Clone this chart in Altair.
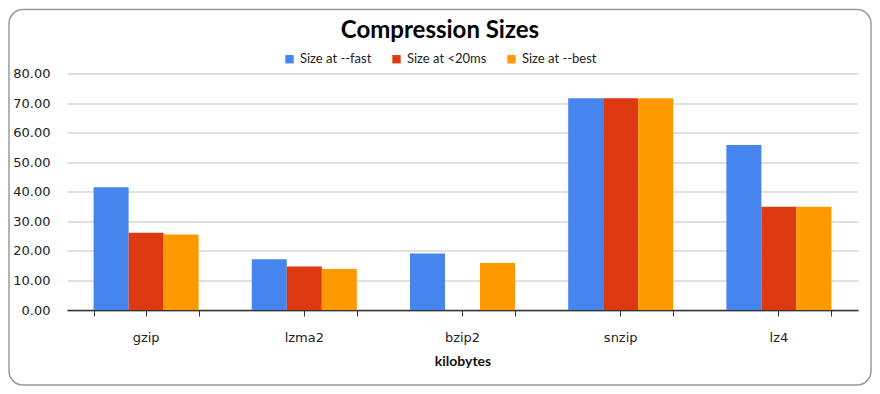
import altair as alt
import pandas as pd

tools = ["gzip", "lzma2", "bzip2", "snzip", "lz4"]
series = ["Size at --fast", "Size at <20ms", "Size at --best"]
size_fast = [41.5, 17.2, 19.1, 71.6, 55.8]
size_20ms = [26.1, 14.7, None, 71.6, 34.9]
size_best = [25.5, 13.9, 15.9, 71.6, 34.9]
colors = ["#4684EE", "#DC3912", "#FF9900"]
y_ticks = [0, 10, 20, 30, 40, 50, 60, 70, 80]
chart_title = "Compression Sizes"

rows = []
for name, vals in zip(series, [size_fast, size_20ms, size_best]):
    for t, v in zip(tools, vals):
        if v is not None:
            rows.append({"tool": t, "series": name, "size": v})
df = pd.DataFrame(rows)

W, H = 791, 236.5

xscale = alt.Scale(domain=tools, paddingInner=0.336, paddingOuter=0.168)
yscale = alt.Scale(domain=[0, 80], nice=False)
y_axis = alt.Axis(title=None, values=y_ticks, format=".2f", ticks=False, domain=False,
                  labelOverlap=False, labelBound=False,
                  labelFont="DejaVu Sans", labelFontSize=13, labelColor="#222",
                  labelPadding=17, gridColor="#d6d6d6", gridWidth=1.5)

bars = alt.Chart(df).mark_bar().encode(
    x=alt.X("tool:N", scale=xscale, sort=tools,
            axis=alt.Axis(title="kilobytes", orient="bottom", labelAngle=0,
                          labelFont="DejaVu Sans", labelFontSize=13, labelColor="#222",
                          labelPadding=15, tickSize=6, tickColor="#333",
                          domainColor="#333", domainWidth=1.5,
                          titleFont="Lato", titleFontSize=14, titleFontWeight="bold",
                          titleColor="#111", titlePadding=10)),
    xOffset=alt.XOffset("series:N", sort=series, scale=alt.Scale(domain=series, paddingInner=0, paddingOuter=0)),
    y=alt.Y("size:Q", scale=yscale, axis=y_axis),
    color=alt.Color("series:N", sort=series,
                    scale=alt.Scale(domain=series, range=colors),
                    legend=alt.Legend(title=None, orient="none", direction="horizontal",
                                      legendX=216, legendY=-21, symbolType="square",
                                      symbolSize=70, symbolStrokeWidth=0,
                                      labelFont="Lato", labelFontSize=13, labelColor="#222",
                                      columnPadding=18, labelOffset=4)),
)

edge_ticks = alt.Chart(df).mark_bar(opacity=0).encode(
    x=alt.X("tool:N", scale=xscale, sort=tools,
            axis=alt.Axis(title=None, orient="bottom", labels=False, domain=False,
                          tickBand="extent", tickSize=6, tickColor="#333", grid=False)),
    y=alt.Y("size:Q", scale=yscale, axis=y_axis),
)

border = alt.Chart(alt.Data(values=[{}])).mark_rect(
    filled=False, stroke="#9a9a9a", strokeWidth=1.5, cornerRadius=14
).encode(
    x=alt.value(-58), x2=alt.value(W + 13), y=alt.value(-64), y2=alt.value(H + 75)
)

title = alt.Chart(alt.Data(values=[{"t": chart_title}])).mark_text(
    font="Lato", fontSize=24, fontWeight="bold", color="#000",
    align="center", baseline="middle"
).encode(
    text="t:N", x=alt.value(373), y=alt.value(-42.5)
)

chart = alt.layer(border, title, bars, edge_ticks).resolve_axis(x="independent").properties(
    width=W, height=H,
    autosize=alt.AutoSizeParams(type="none"),
    padding={"left": 59, "top": 65.5, "right": 14, "bottom": 76},
).configure_view(stroke=None)

chart.save("out.html", embed_options={"renderer": "svg", "actions": False})
